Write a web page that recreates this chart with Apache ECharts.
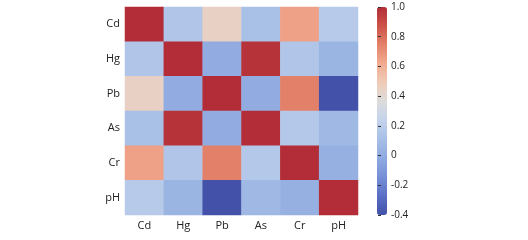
<!DOCTYPE html>
<html>
<head>
<meta charset="utf-8">
<script src="https://cdn.jsdelivr.net/npm/echarts@6/dist/echarts.min.js"></script>
<style>
  html, body { margin: 0; padding: 0; background: #fff; }
  #main { width: 528px; height: 240px; }
</style>
</head>
<body>
<div id="main"></div>
<script>
    var names = ['Cd', 'Hg', 'Pb', 'As', 'Cr', 'pH'];
    // correlation matrix, row by row (rows top to bottom)
    var rowCd = [1.00, 0.15, 0.45, 0.12, 0.65, 0.18];
    var rowHg = [0.15, 1.00, 0.00, 0.98, 0.15, 0.05];
    var rowPb = [0.45, 0.00, 1.00, 0.00, 0.75, -0.40];
    var rowAs = [0.12, 0.98, 0.00, 1.00, 0.17, 0.07];
    var rowCr = [0.65, 0.15, 0.75, 0.17, 1.00, 0.02];
    var rowPH = [0.18, 0.05, -0.40, 0.07, 0.02, 1.00];

    var rows = [rowCd, rowHg, rowPb, rowAs, rowCr, rowPH];
    var cells = [];
    rows.forEach(function (row, r) {
        row.forEach(function (v, c) {
            cells.push([c, r, v]);
        });
    });

    // coolwarm-ish, a bit muted like the picture
    var coolwarm = ['#4351a8', '#5a6ec5', '#7690d6', '#8ea9e0', '#a7bfe6', '#c3d2ec',
        '#dcdcdc', '#efcbb8', '#f1ac90', '#e4826a', '#cd5249', '#b22d37'];

    var font = 'Open Sans';
    var myChart = echarts.init(document.getElementById('main'));
    var option = {
        animation: false,
        textStyle: { fontFamily: font },
        grid: [
            { left: 125, right: 170, top: 7, height: 208, outerBoundsMode: 'none' },
            { left: 378, width: 10, top: 7, height: 208, outerBoundsMode: 'none' }
        ],
        xAxis: [{
            type: 'category',
            data: names,
            gridIndex: 0,
            axisLine: { show: false },
            axisTick: { alignWithLabel: true, length: 3, lineStyle: { color: '#333' } },
            axisLabel: { color: '#222', fontSize: 11, margin: 5 }
        }, {
            type: 'value',
            gridIndex: 1,
            show: false
        }],
        yAxis: [{
            type: 'category',
            data: names,
            inverse: true,
            gridIndex: 0,
            axisLine: { show: false },
            axisTick: { alignWithLabel: true, length: 3, lineStyle: { color: '#333' } },
            axisLabel: { color: '#222', fontSize: 11, margin: 5 }
        }, {
            type: 'value',
            gridIndex: 1,
            position: 'right',
            z: 10,
            min: -0.4,
            max: 1.0,
            interval: 0.2,
            splitLine: { show: false },
            axisLine: { show: false },
            axisTick: { show: true, inside: false, length: 3, lineStyle: { color: '#333', width: 1 } },
            axisLabel: {
                color: '#222', fontSize: 10, margin: 3,
                formatter: function (v) {
                    var s = Math.round(v * 10) / 10;
                    return s === 1 ? '1.0' : String(s);
                }
            }
        }],
        visualMap: {
            type: 'continuous',
            min: -0.4,
            max: 1.0,
            seriesIndex: 0,
            calculable: false,
            hoverLink: false,
            orient: 'vertical',
            left: 377,
            top: 7,
            padding: 0,
            itemWidth: 10,
            itemHeight: 208,
            showLabel: false,
            inRange: { color: coolwarm }
        },
        series: [{
            type: 'heatmap',
            xAxisIndex: 0,
            yAxisIndex: 0,
            data: cells,
            itemStyle: { borderWidth: 0 },
            emphasis: { disabled: true }
        }]
    };
    myChart.setOption(option);
</script>
</body>
</html>
